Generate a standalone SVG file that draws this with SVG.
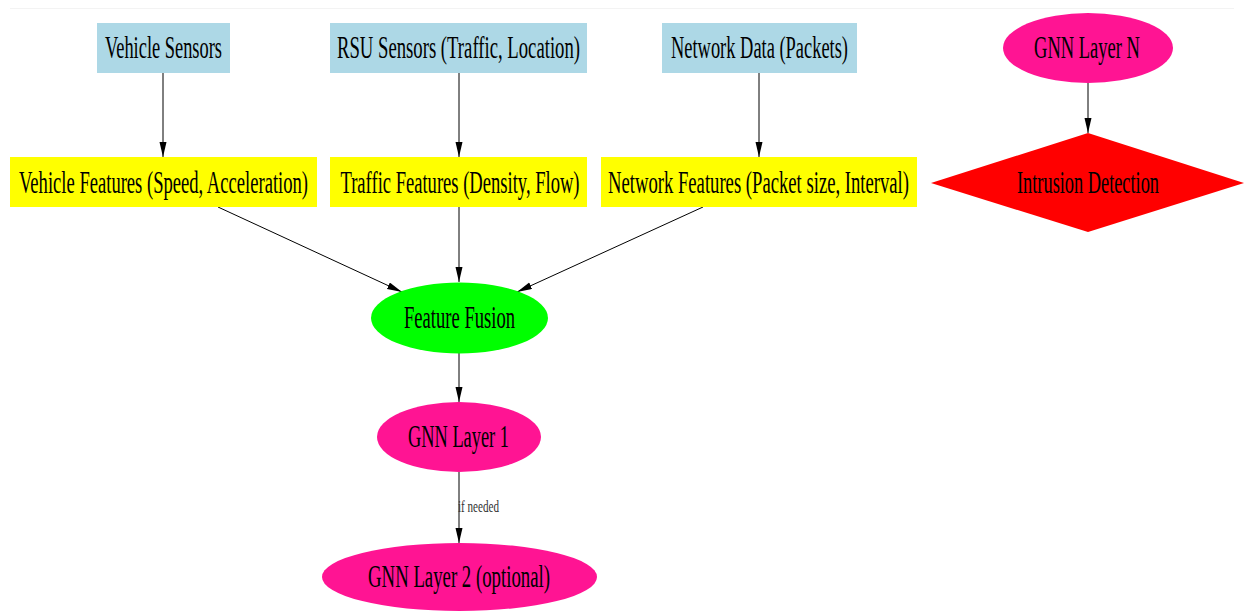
<svg xmlns="http://www.w3.org/2000/svg" width="1244" height="614" viewBox="0 0 1244 614">
  <defs>
    <marker id="arrow" markerUnits="userSpaceOnUse" markerWidth="16" markerHeight="8" refX="15" refY="3.5" orient="auto">
      <path d="M0,0 L15,3.5 L0,7 z" fill="#000"/>
    </marker>
    <style>
      .lbl { font-family: "Liberation Serif", "Times New Roman", serif; font-size: 18px; fill: #000; text-anchor: middle; }
      .edge-lbl { font-family: "Liberation Serif", "Times New Roman", serif; font-size: 11px; fill: #333; }
      .edge { stroke: #000; stroke-width: 1; fill: none; marker-end: url(#arrow); }
      .src { fill: #ADD8E6; }
      .feat { fill: #FFFF00; }
      .fuse { fill: #00FF00; }
      .gnn { fill: #FF1493; }
      .detect { fill: #FF0000; }
    </style>
  </defs>
  <rect x="0" y="0" width="1244" height="614" fill="#fff"/>
  <line x1="10" y1="8.5" x2="1234" y2="8.5" stroke="#f3f3f3" stroke-width="1"/>

  <g id="connectors">
    <line class="edge" x1="163" y1="73" x2="163" y2="157"/>
    <line class="edge" x1="459" y1="73" x2="459" y2="157"/>
    <line class="edge" x1="759" y1="73" x2="759" y2="157"/>
    <line class="edge" x1="1088" y1="83" x2="1088" y2="133"/>
    <line class="edge" x1="218" y1="207" x2="402" y2="292"/>
    <line class="edge" x1="459" y1="207" x2="459" y2="282"/>
    <line class="edge" x1="703" y1="207" x2="517" y2="292"/>
    <line class="edge" x1="459" y1="353" x2="459" y2="402"/>
    <line class="edge" x1="459" y1="472" x2="459" y2="543"/>
    <text class="edge-lbl" transform="translate(458,512) scale(1,1.5)" textLength="41" lengthAdjust="spacingAndGlyphs">if needed</text>
  </g>

  <!-- labels are set at 18px and stretched vertically -->
  <g id="vehicle-sensors">
    <rect class="src" x="97" y="23" width="133" height="50"/>
    <text class="lbl" transform="translate(163.5,58) scale(1,1.8)" textLength="117" lengthAdjust="spacingAndGlyphs">Vehicle Sensors</text>
  </g>
  <g id="rsu-sensors">
    <rect class="src" x="330" y="23" width="257" height="50"/>
    <text class="lbl" transform="translate(458.5,58) scale(1,1.8)" textLength="243" lengthAdjust="spacingAndGlyphs">RSU Sensors (Traffic, Location)</text>
  </g>
  <g id="network-data">
    <rect class="src" x="662" y="23" width="195" height="50"/>
    <text class="lbl" transform="translate(759.5,58) scale(1,1.8)" textLength="177" lengthAdjust="spacingAndGlyphs">Network Data (Packets)</text>
  </g>
  <g id="gnn-layer-n">
    <ellipse class="gnn" cx="1088" cy="48" rx="85" ry="35"/>
    <text class="lbl" transform="translate(1087,58) scale(1,1.8)" textLength="106" lengthAdjust="spacingAndGlyphs">GNN Layer N</text>
  </g>

  <g id="vehicle-features">
    <rect class="feat" x="10" y="157" width="307" height="50"/>
    <text class="lbl" transform="translate(163.5,193) scale(1,1.8)" textLength="289" lengthAdjust="spacingAndGlyphs">Vehicle Features (Speed, Acceleration)</text>
  </g>
  <g id="traffic-features">
    <rect class="feat" x="330" y="157" width="257" height="50"/>
    <text class="lbl" transform="translate(460,193) scale(1,1.8)" textLength="239" lengthAdjust="spacingAndGlyphs">Traffic Features (Density, Flow)</text>
  </g>
  <g id="network-features">
    <rect class="feat" x="601" y="157" width="316" height="50"/>
    <text class="lbl" transform="translate(758.5,193) scale(1,1.8)" textLength="301" lengthAdjust="spacingAndGlyphs">Network Features (Packet size, Interval)</text>
  </g>
  <g id="intrusion-detection">
    <polygon class="detect" points="1088,133 1244,183 1088,232 931,183"/>
    <text class="lbl" transform="translate(1088,193) scale(1,1.8)" textLength="142" lengthAdjust="spacingAndGlyphs">Intrusion Detection</text>
  </g>

  <g id="feature-fusion">
    <ellipse class="fuse" cx="459.5" cy="318" rx="88.5" ry="35.5"/>
    <text class="lbl" transform="translate(459.5,328) scale(1,1.8)" textLength="111" lengthAdjust="spacingAndGlyphs">Feature Fusion</text>
  </g>
  <g id="gnn-layer-1">
    <ellipse class="gnn" cx="459" cy="437" rx="82" ry="35"/>
    <text class="lbl" transform="translate(458.5,447) scale(1,1.8)" textLength="101" lengthAdjust="spacingAndGlyphs">GNN Layer 1</text>
  </g>
  <g id="gnn-layer-2">
    <ellipse class="gnn" cx="459.5" cy="577" rx="137.5" ry="34"/>
    <text class="lbl" transform="translate(459,587) scale(1,1.8)" textLength="182" lengthAdjust="spacingAndGlyphs">GNN Layer 2 (optional)</text>
  </g>
</svg>
